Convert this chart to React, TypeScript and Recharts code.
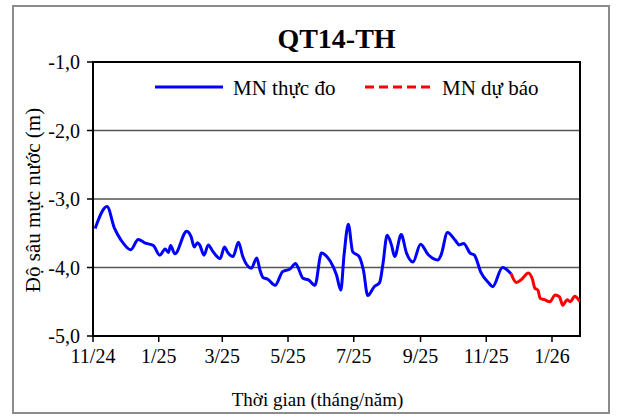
import React from 'react';
import { LineChart, Line, XAxis, YAxis, CartesianGrid, ReferenceArea, Legend, Label } from 'recharts';

const FONT = '"Liberation Serif", "Times New Roman", Times, serif';

// x positions: days since 1 Nov 2024
const xTickDays = [0, 61, 120, 181, 242, 304, 365, 426];
const xTickLabels = ['11/24', '1/25', '3/25', '5/25', '7/25', '9/25', '11/25', '1/26'];
const yTicks = [-5, -4, -3, -2, -1];

// observed water level (MN thực đo)
const obsDay = [2, 13, 20, 26, 35, 42, 48, 56, 62, 67, 70, 72, 76, 87, 91, 94, 97, 99, 103, 107, 111, 118, 122, 125, 130, 135, 139, 147, 152, 155, 158, 162, 169, 176, 183, 188, 190, 195, 200, 206, 212, 217, 223, 226, 230, 233, 237, 241, 247, 251, 255, 261, 266, 269, 273, 277, 280, 286, 291, 297, 304, 311, 320, 323, 329, 336, 340, 344, 350, 354, 360, 367, 371, 380, 388];
const obsLevel = [-3.43, -3.11, -3.43, -3.60, -3.74, -3.59, -3.64, -3.68, -3.82, -3.73, -3.78, -3.68, -3.80, -3.47, -3.55, -3.70, -3.64, -3.67, -3.82, -3.67, -3.76, -3.87, -3.70, -3.78, -3.84, -3.63, -3.84, -4.01, -3.86, -4.04, -4.15, -4.17, -4.26, -4.06, -4.02, -3.94, -3.99, -4.16, -4.18, -4.26, -3.79, -3.84, -3.99, -4.11, -4.33, -3.82, -3.37, -3.77, -3.84, -4.04, -4.41, -4.28, -4.22, -3.96, -3.53, -3.67, -3.84, -3.52, -3.79, -3.92, -3.66, -3.81, -3.89, -3.82, -3.49, -3.60, -3.67, -3.65, -3.79, -3.82, -4.07, -4.22, -4.28, -4.00, -4.09];

// forecast water level (MN dự báo)
const fcDay = [388, 393, 398, 404, 408, 410, 413, 415, 419, 424, 429, 433, 436, 440, 443, 447, 452];
const fcLevel = [-4.09, -4.22, -4.17, -4.08, -4.18, -4.30, -4.33, -4.45, -4.47, -4.50, -4.40, -4.43, -4.55, -4.47, -4.50, -4.42, -4.50];

const obsData = obsDay.map((d, i) => ({ day: d, level: obsLevel[i] }));
const fcData = fcDay.map((d, i) => ({ day: d, level: fcLevel[i] }));

const fmtY = (v: number) => v.toFixed(1).replace('.', ',');
const fmtX = (v: number) => xTickLabels[xTickDays.indexOf(v)] ?? '';

const txt = { fontFamily: FONT };

const renderLegend = () => (
  <svg width={420} height={32} style={{ display: 'block' }}>
    <line x1={5} y1={15} x2={73} y2={15} stroke="#0000FF" strokeWidth={3} />
    <text x={83} y={23} fontFamily={FONT} style={txt} fontSize={21} fill="#000">MN thực đo</text>
    <line x1={215} y1={15} x2={285} y2={15} stroke="#FF0000" strokeWidth={3} strokeDasharray="9 5" />
    <text x={292} y={23} fontFamily={FONT} style={txt} fontSize={21} fill="#000">MN dự báo</text>
  </svg>
);

export default function App() {
  return (
    <div style={{ position: 'absolute', left: 0, top: 0, width: 618, height: 419, background: '#fff', fontFamily: FONT }}>
      <div style={{ position: 'absolute', left: 12, top: 5, width: 598, height: 409, border: '2px solid #8c8c8c', boxSizing: 'border-box' }} />
      <div style={{ position: 'absolute', left: 93, width: 487, top: 22, textAlign: 'center', fontFamily: FONT, fontWeight: 'bold', fontSize: 28, lineHeight: '34px', color: '#000' }}>QT14-TH</div>
      <LineChart width={618} height={419} margin={{ top: 62, right: 38, bottom: 53, left: 33 }} style={{ position: 'absolute', left: 0, top: 0, fontFamily: FONT }}>
        <CartesianGrid horizontal vertical={false} stroke="#555" strokeWidth={1.5} />
        <XAxis
          type="number"
          dataKey="day"
          domain={[0, 452]}
          ticks={xTickDays}
          interval={0}
          tickFormatter={fmtX}
          tickSize={6}
          tickMargin={7}
          axisLine={{ stroke: '#000', strokeWidth: 2 }}
          tickLine={{ stroke: '#000', strokeWidth: 1.5 }}
          tick={{ fill: '#000', fontSize: 20, fontFamily: FONT }}
          height={30}
          allowDataOverflow
        >
          <Label
            content={(p: any) => (
              <text x={p.viewBox.x + p.viewBox.width / 2 - 19} y={406} textAnchor="middle" fontFamily={FONT} style={txt} fontSize={19} fill="#000">
                Thời gian (tháng/năm)
              </text>
            )}
          />
        </XAxis>
        <YAxis
          type="number"
          domain={[-5, -1]}
          ticks={yTicks}
          interval={0}
          tickFormatter={fmtY}
          tickSize={6}
          tickMargin={7}
          width={60}
          axisLine={{ stroke: '#000', strokeWidth: 2 }}
          tickLine={{ stroke: '#000', strokeWidth: 1.5 }}
          tick={{ fill: '#000', fontSize: 20, fontFamily: FONT }}
          allowDataOverflow
        >
          <Label
            content={() => (
              <text x={33} y={200} transform="rotate(-90 33 200)" textAnchor="middle" dominantBaseline="central" fontFamily={FONT} style={txt} fontSize={21} fill="#000">
                Độ sâu mực nước (m)
              </text>
            )}
          />
        </YAxis>
        <ReferenceArea x1={0} x2={452} y1={-5} y2={-1} stroke="#000" strokeWidth={2} fill="none" fillOpacity={0} />
        <Legend layout="horizontal" verticalAlign="middle" align="center" content={renderLegend} wrapperStyle={{ left: 150, top: 72, width: 420, height: 32 }} />
        <Line data={obsData} dataKey="level" type="monotone" stroke="#0000FF" strokeWidth={3} dot={false} activeDot={false} isAnimationActive={false} strokeLinejoin="round" />
        <Line data={fcData} dataKey="level" type="monotone" stroke="#FF0000" strokeWidth={3} dot={false} activeDot={false} isAnimationActive={false} strokeLinejoin="round" />
      </LineChart>
    </div>
  );
}
